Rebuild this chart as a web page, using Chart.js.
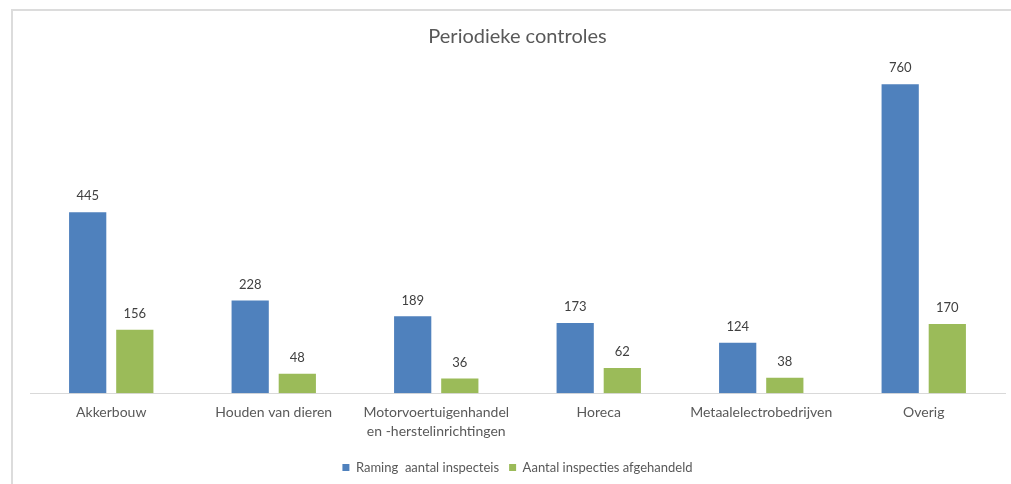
<!DOCTYPE html>
<html>
<head>
<meta charset="utf-8">
<script src="https://cdn.jsdelivr.net/npm/chart.js@4.4.0/dist/chart.umd.min.js"></script>
<style>
    html, body { margin: 0; padding: 0; background: #fff; }
    #wrap { position: relative; width: 1011px; height: 484px; }
    #frame { position: absolute; left: 11px; top: 9px; right: -2px; bottom: -2px;
             border: 2px solid #dcdcdc; pointer-events: none; }
</style>
</head>
<body>
<div id="wrap">
    <canvas id="controlesChart" width="1011" height="484"></canvas>
    <div id="frame"></div>
</div>
<script>
// Gegevens uit de grafiek
const categories = ['Akkerbouw', 'Houden van dieren', ['Motorvoertuigenhandel', 'en -herstelinrichtingen'],
    'Horeca', 'Metaalelectrobedrijven', 'Overig'];
const raming = [445, 228, 189, 173, 124, 760];
const afgehandeld = [156, 48, 36, 62, 38, 170];

const textColor = '#595959';
const fontFamily = 'Lato, "Open Sans", sans-serif';

// labels boven de staven
const valueLabels = {
    id: 'valueLabels',
    afterDatasetsDraw(chart) {
        const ctx = chart.ctx;
        ctx.save();
        ctx.font = '13px ' + fontFamily;
        ctx.fillStyle = '#404040';
        ctx.textAlign = 'center';
        ctx.textBaseline = 'middle';
        chart.data.datasets.forEach((ds, i) => {
            chart.getDatasetMeta(i).data.forEach((bar, j) => {
                ctx.fillText(ds.data[j], bar.x, bar.y - 16);
            });
        });
        ctx.restore();
    }
};

new Chart(document.getElementById('controlesChart'), {
    type: 'bar',
    data: {
        labels: categories,
        datasets: [
            {
                label: 'Raming  aantal inspecteis',
                data: raming,
                backgroundColor: '#4F81BD',
                categoryPercentage: 0.58,
                barPercentage: 0.79
            },
            {
                label: 'Aantal inspecties afgehandeld',
                data: afgehandeld,
                backgroundColor: '#9BBB59',
                categoryPercentage: 0.58,
                barPercentage: 0.79
            }
        ]
    },
    options: {
        responsive: false,
        animation: false,
        layout: { padding: { left: 30, right: 6, top: 20, bottom: 0 } },
        plugins: {
            title: {
                display: true,
                text: 'Periodieke controles',
                color: textColor,
                font: { family: fontFamily, size: 20, weight: 'normal' },
                padding: { top: 5, bottom: 19 }
            },
            legend: {
                position: 'bottom',
                labels: {
                    color: textColor,
                    font: { family: fontFamily, size: 13 },
                    boxWidth: 7,
                    boxHeight: 7,
                    padding: 10
                }
            },
            tooltip: { enabled: false }
        },
        scales: {
            x: {
                grid: { display: false, drawTicks: false },
                border: { display: true, color: '#d9d9d9', width: 1 },
                ticks: {
                    color: textColor,
                    font: { family: fontFamily, size: 14, lineHeight: 1.35 },
                    padding: 10,
                    maxRotation: 0,
                    autoSkip: false
                }
            },
            y: {
                display: false,
                min: 0,
                max: 800
            }
        }
    },
    plugins: [valueLabels]
});
</script>
</body>
</html>
